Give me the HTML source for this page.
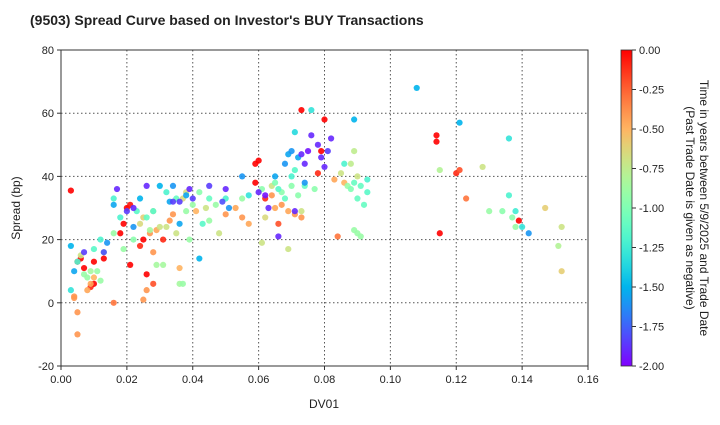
<!DOCTYPE html>
<html><head><meta charset="utf-8"><style>
body{margin:0;background:#fff;font-family:"Liberation Sans",sans-serif}
svg text{font-family:"Liberation Sans",sans-serif}
</style></head><body>
<svg id="chart" width="720" height="420" xmlns="http://www.w3.org/2000/svg">
<defs><linearGradient id="cbgrad" x1="0" y1="1" x2="0" y2="0"></linearGradient></defs>
<text x="30" y="25" font-size="14" font-weight="bold" fill="#222">(9503)   Spread Curve based on Investor's BUY Transactions</text>
<g id="grid"></g><g id="points"></g>
<rect x="61" y="50" width="527" height="316" fill="none" stroke="#333" stroke-width="1"/>
<g id="axes"></g>
<text x="324" y="408" font-size="12" text-anchor="middle" fill="#222">DV01</text>
<text transform="translate(20,208) rotate(-90)" font-size="12" text-anchor="middle" fill="#222">Spread (bp)</text>
<rect x="621" y="50" width="11" height="316" fill="url(#cbgrad)" stroke="#333" stroke-width="0.8"/>
<g id="cbticks"></g>
<text transform="translate(700,208) rotate(90)" font-size="12" text-anchor="middle" fill="#222">Time in years between 5/9/2025 and Trade Date</text>
<text transform="translate(686,208) rotate(90)" font-size="12" text-anchor="middle" fill="#222">(Past Trade Date is given as negative)</text>
</svg>
<script>
const xTicks=[0,0.02,0.04,0.06,0.08,0.10,0.12,0.14,0.16];
const xTickLabels=["0.00","0.02","0.04","0.06","0.08","0.10","0.12","0.14","0.16"];
const yTicks=[-20,0,20,40,60,80];
const cbTicks=[0,-0.25,-0.5,-0.75,-1,-1.25,-1.5,-1.75,-2];
const cbTickLabels=["0.00","-0.25","-0.50","-0.75","-1.00","-1.25","-1.50","-1.75","-2.00"];
const dv=[],spread=[],age=[];
const pts=[
[0.003,35.5,0],[0.005,13,-0.1],[0.006,14,0],[0.007,11,0],[0.009,5,-0.1],[0.010,6,0],[0.010,13,0],[0.013,14,0],[0.018,22,0],[0.019,25,0],[0.020,30,0],[0.021,31,-0.05],[0.021,12,0],[0.024,18,-0.1],[0.025,20,0],[0.026,9,0],[0.028,6,-0.2],[0.031,20,-0.1],[0.016,0,-0.3],[0.059,44,0],[0.060,45,0],[0.059,38,0],[0.062,33,-0.1],[0.073,61,0],[0.080,58,0],[0.079,48,0],[0.066,25,-0.2],[0.078,41,-0.1],[0.084,21,-0.3],[0.114,53,0],[0.114,51,0],[0.115,22,0],[0.120,41,-0.1],[0.121,42,-0.2],[0.123,33,-0.3],[0.139,26,0],
[0.004,2,-0.4],[0.005,-3,-0.4],[0.005,-10,-0.4],[0.004,1.5,-0.4],[0.008,4,-0.45],[0.009,6,-0.45],[0.010,8,-0.5],[0.025,1,-0.4],[0.026,4,-0.4],[0.027,22,-0.4],[0.029,23,-0.45],[0.028,16,-0.4],[0.033,26,-0.4],[0.034,28,-0.4],[0.036,11,-0.5],[0.041,29,-0.5],[0.050,28,-0.4],[0.053,30,-0.45],[0.055,27,-0.4],[0.057,25,-0.45],[0.064,34,-0.4],[0.065,30,-0.45],[0.067,31,-0.4],[0.069,29,-0.45],[0.071,28,-0.4],[0.073,27,-0.4],[0.083,39,-0.45],[0.086,38,-0.5],[0.147,30,-0.6],[0.152,10,-0.6],
[0.006,15,-0.7],[0.024,25,-0.65],[0.028,29,-0.65],[0.030,24,-0.7],[0.032,24,-0.7],[0.035,22,-0.7],[0.038,35,-0.65],[0.037,33,-0.65],[0.044,30,-0.7],[0.048,22,-0.7],[0.061,19,-0.7],[0.062,27,-0.65],[0.064,37,-0.7],[0.069,17,-0.7],[0.073,29,-0.7],[0.085,41,-0.7],[0.088,44,-0.75],[0.089,48,-0.75],[0.090,40,-0.7],[0.115,42,-0.8],[0.128,43,-0.7],[0.152,24,-0.7],[0.151,18,-0.8],[0.025,27,-0.6],
[0.007,9,-0.9],[0.008,8,-0.9],[0.009,10,-0.85],[0.011,10,-0.9],[0.012,7,-0.9],[0.013,16,-0.85],[0.016,22,-0.9],[0.019,17,-0.9],[0.022,20,-0.95],[0.027,23,-0.85],[0.029,12,-0.85],[0.031,12,-0.85],[0.036,6,-0.85],[0.037,6,-0.9],[0.038,29,-0.9],[0.040,31,-0.9],[0.042,35,-0.95],[0.045,26,-0.9],[0.047,31,-0.9],[0.055,33,-0.9],[0.061,36,-0.95],[0.065,38,-1.0],[0.067,35,-0.95],[0.070,37,-0.95],[0.072,34,-0.95],[0.077,36,-0.95],[0.087,37,-0.9],[0.088,36,-1.0],[0.089,23,-0.9],[0.090,22,-0.9],[0.091,21,-0.9],[0.130,29,-0.9],[0.134,29,-0.95],[0.137,27,-0.95],[0.138,24,-0.9],[0.039,20,-0.9],
[0.003,4,-1.3],[0.005,13,-1.2],[0.010,17,-1.15],[0.012,20,-1.2],[0.016,33,-1.2],[0.018,27,-1.2],[0.023,29,-1.15],[0.026,27,-1.1],[0.028,29,-1.15],[0.032,35,-1.2],[0.035,33,-1.1],[0.043,25,-1.15],[0.045,33,-1.1],[0.050,33,-1.2],[0.057,34,-1.3],[0.066,36,-1.15],[0.068,33,-1.1],[0.070,40,-1.2],[0.071,42,-1.15],[0.074,37,-1.1],[0.086,44,-1.2],[0.089,38,-1.1],[0.091,37,-1.1],[0.093,35,-1.15],[0.092,31,-1.1],[0.093,39,-1.2],[0.090,33,-1.1],[0.076,61,-1.3],[0.071,54,-1.35],[0.136,34,-1.2],[0.138,29,-1.25],[0.140,24,-1.3],[0.136,52,-1.3],
[0.003,18,-1.5],[0.004,10,-1.55],[0.014,19,-1.6],[0.016,31,-1.55],[0.022,24,-1.6],[0.024,33,-1.5],[0.030,37,-1.5],[0.033,32,-1.55],[0.036,25,-1.55],[0.042,14,-1.5],[0.051,30,-1.6],[0.055,40,-1.6],[0.065,40,-1.55],[0.068,44,-1.6],[0.069,47,-1.55],[0.070,48,-1.6],[0.072,46,-1.55],[0.074,38,-1.6],[0.089,58,-1.5],[0.108,68,-1.5],[0.121,57,-1.5],[0.142,22,-1.6],[0.038,34,-1.55],[0.034,37,-1.6],
[0.007,16,-1.85],[0.013,16,-1.8],[0.017,36,-1.9],[0.020,29,-1.85],[0.022,30,-1.9],[0.026,37,-1.9],[0.034,32,-1.85],[0.036,32,-1.85],[0.039,36,-1.9],[0.040,33,-1.85],[0.045,37,-1.85],[0.049,32,-1.8],[0.050,36,-1.9],[0.060,35,-1.9],[0.062,34,-1.95],[0.063,30,-1.9],[0.066,21,-1.9],[0.073,47,-1.9],[0.074,44,-1.9],[0.075,48,-1.95],[0.078,50,-1.9],[0.079,46,-1.9],[0.080,43,-1.9],[0.081,48,-1.85],[0.082,52,-1.9],[0.076,53,-1.9],[0.071,29,-1.9]
];
pts.forEach(p=>{dv.push(p[0]);spread.push(p[1]);age.push(p[2]);});

const NS="http://www.w3.org/2000/svg";
const X0=61,X1=588,Y0=366,Y1=50;
const xs=v=>X0+(v-0)/(0.16-0)*(X1-X0);
const ys=v=>Y0-(v+20)/100*(Y0-Y1);
const cbY=v=>50+(0-v)/2*316;
function rainbow(t){const x=(t+2)/2;const r=Math.min(1,Math.abs(2*x-0.5)),g=Math.sin(Math.PI*x),b=Math.cos(Math.PI*x/2);
 return `rgb(${Math.round(r*255)},${Math.round(Math.max(0,g)*255)},${Math.round(Math.max(0,b)*255)})`;}
function mk(tag,attrs,parent){const e=document.createElementNS(NS,tag);for(const k in attrs)e.setAttribute(k,attrs[k]);parent.appendChild(e);return e;}
const grid=document.getElementById('grid'),axes=document.getElementById('axes'),ptsG=document.getElementById('points'),cb=document.getElementById('cbticks');
xTicks.forEach((v,i)=>{const x=xs(v);
 const l=mk('line',{x1:x,x2:x,y1:Y1,y2:Y0,stroke:'#555','stroke-dasharray':'1.5,2.5','stroke-width':1},grid);
 
 
 mk('line',{x1:x,x2:x,y1:Y0,y2:Y0+4,stroke:'#333'},axes);
 const t=mk('text',{x:x,y:Y0+17,'font-size':11,'text-anchor':'middle',fill:'#222'},axes);t.textContent=xTickLabels[i];
 
 });
yTicks.forEach(v=>{const y=ys(v);
 const l=mk('line',{x1:X0,x2:X1,y1:y,y2:y,stroke:'#555','stroke-dasharray':'1.5,2.5','stroke-width':1},grid);
 
 
 mk('line',{x1:X0-4,x2:X0,y1:y,y2:y,stroke:'#333'},axes);
 const t=mk('text',{x:X0-7,y:y+4,'font-size':11,'text-anchor':'end',fill:'#222'},axes);t.textContent=String(v);
 
 });
for(let i=0;i<dv.length;i++){
 const c=mk('circle',{cx:xs(dv[i]),cy:ys(spread[i]),r:3.1,fill:rainbow(age[i]),'fill-opacity':0.9},ptsG);
 
 }
const grad=document.getElementById('cbgrad');
for(let i=0;i<=20;i++){mk('stop',{offset:(i/20),'stop-color':rainbow(-2+2*i/20)},grad);}
cbTicks.forEach((v,i)=>{const y=cbY(v);
 mk('line',{x1:632,x2:636,y1:y,y2:y,stroke:'#333'},cb);
 const t=mk('text',{x:639,y:y+4,'font-size':11,fill:'#222'},cb);t.textContent=cbTickLabels[i];
 
 });
</script>
</body></html>
